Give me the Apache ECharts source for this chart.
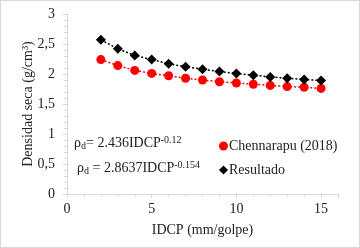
<!DOCTYPE html>
<html>
<head>
<meta charset="utf-8">
<script src="https://cdn.jsdelivr.net/npm/echarts@6/dist/echarts.min.js"></script>
<style>
  html, body { margin: 0; padding: 0; background: #fff; }
  #chart { width: 358px; height: 246px; border: 1px solid #d9d9d9; }
</style>
</head>
<body>
<div id="chart"></div>
<script>
// IDCP (mm/golpe)
const idcp = [2, 3, 4, 5, 6, 7, 8, 9, 10, 11, 12, 13, 14, 15];
// Chennarapu (2018)
const chennarapu = [2.24, 2.14, 2.06, 2.01, 1.97, 1.93, 1.90, 1.87, 1.85, 1.83, 1.81, 1.79, 1.78, 1.76];
// Resultado
const resultado = [2.57, 2.42, 2.31, 2.24, 2.17, 2.12, 2.08, 2.04, 2.01, 1.98, 1.95, 1.93, 1.91, 1.89];

const font = 'Liberation Serif, Times New Roman, serif';
const pair = (xs, ys) => xs.map((x, i) => [x, ys[i]]);
const eqRich = {
  a: { fontFamily: font, fontSize: 14, fill: '#222' },
  s: { fontFamily: font, fontSize: 10, fill: '#222', verticalAlign: 'bottom', padding: [6, 0, 0, 0] },
  p: { fontFamily: font, fontSize: 10, fill: '#222', verticalAlign: 'top', padding: [0, 0, 6, 0] }
};

const chart = echarts.init(document.getElementById('chart'));
chart.setOption({
  animation: false,
  textStyle: { fontFamily: font, color: '#222' },
  grid: { left: 66, right: 21, top: 13, bottom: 53 },
  legend: {
    orient: 'vertical',
    left: 213,
    top: 133,
    itemGap: 10,
    itemWidth: 9,
    itemHeight: 9,
    textStyle: { fontFamily: font, fontSize: 14, color: '#222', padding: [0, 0, 0, -4] },
    data: [
      { name: 'Chennarapu (2018)', icon: 'circle' },
      { name: 'Resultado', icon: 'diamond' }
    ]
  },
  xAxis: {
    type: 'value',
    min: 0, max: 16, interval: 5,
    name: 'IDCP (mm/golpe)',
    nameLocation: 'middle',
    nameGap: 29,
    nameMoveOverlap: false,
    nameTextStyle: { fontFamily: font, fontSize: 14, color: '#222' },
    axisLine: { lineStyle: { color: '#d9d9d9' } },
    axisTick: { show: true, length: 4, lineStyle: { color: '#d9d9d9' } },
    minorTick: { show: true, splitNumber: 5, length: 3, lineStyle: { color: '#d9d9d9' } },
    splitLine: { show: false },
    axisLabel: { fontFamily: font, fontSize: 14, color: '#222', showMaxLabel: false, margin: 8 }
  },
  yAxis: {
    type: 'value',
    min: 0, max: 3, interval: 0.5,
    name: 'Densidad seca (g/cm\u00b3)',
    nameLocation: 'middle',
    nameGap: 32,
    nameMoveOverlap: false,
    nameTextStyle: { fontFamily: font, fontSize: 14, color: '#222' },
    axisLine: { show: true, lineStyle: { color: '#d9d9d9' } },
    axisTick: { show: true, length: 4, lineStyle: { color: '#d9d9d9' } },
    minorTick: { show: true, splitNumber: 5, length: 3, lineStyle: { color: '#d9d9d9' } },
    splitLine: { show: false },
    axisLabel: {
      fontFamily: font, fontSize: 14, color: '#222', margin: 12,
      formatter: v => String(v).replace('.', ',')
    }
  },
  graphic: [
    {
      type: 'text', left: 73, top: 134,
      style: { text: '{a|\u03c1}{s|d}{a|= 2.436IDCP}{p|-0.12}', rich: eqRich }
    },
    {
      type: 'text', left: 76, top: 159,
      style: { text: '{a|\u03c1}{s|d}{a| = 2.8637IDCP}{p|-0.154}', rich: eqRich }
    }
  ],
  series: [
    {
      name: 'Chennarapu (2018)',
      type: 'line',
      data: pair(idcp, chennarapu),
      symbol: 'circle',
      symbolSize: 9,
      itemStyle: { color: '#ff0000' },
      lineStyle: { color: '#ff0000', width: 1.5, type: [2, 2] }
    },
    {
      name: 'Resultado',
      type: 'line',
      data: pair(idcp, resultado),
      symbol: 'diamond',
      symbolSize: 10,
      itemStyle: { color: '#000' },
      lineStyle: { color: '#000', width: 1.5, type: [2, 2] }
    }
  ]
});
</script>
</body>
</html>
